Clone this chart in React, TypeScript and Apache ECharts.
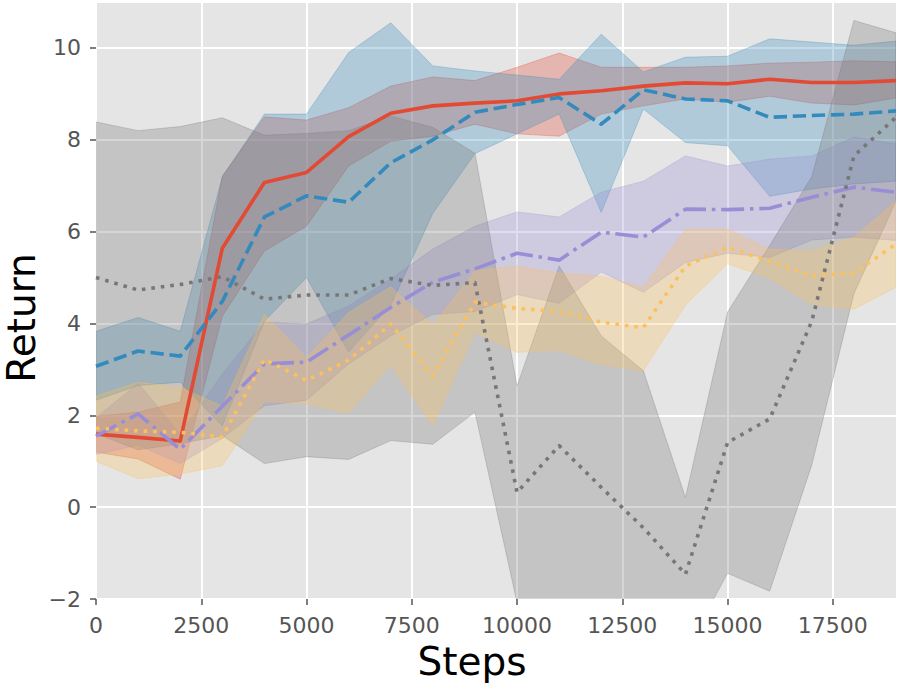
import React, { useEffect, useRef } from "react";
import * as echarts from "echarts";

const steps = [0, 1000, 2000, 3000, 4000, 5000, 6000, 7000, 8000, 9000, 10000, 11000, 12000, 13000, 14000, 15000, 16000, 17000, 18000, 19000];

const redMean = [1.59, 1.52, 1.44, 5.64, 7.07, 7.29, 8.07, 8.58, 8.74, 8.8, 8.85, 9.0, 9.07, 9.17, 9.24, 9.22, 9.32, 9.25, 9.25, 9.29];
const redLow = [1.2, 1.05, 0.61, 4.16, 5.58, 6.12, 7.43, 7.97, 8.08, 8.34, 8.13, 8.08, 8.56, 8.74, 8.89, 8.82, 8.95, 8.8, 8.76, 8.91];
const redHigh = [1.98, 2.07, 2.29, 7.21, 8.5, 8.43, 8.7, 9.17, 9.37, 9.29, 9.58, 9.89, 9.58, 9.58, 9.58, 9.61, 9.67, 9.69, 9.72, 9.7];

const blueMean = [3.07, 3.4, 3.29, 4.48, 6.32, 6.78, 6.64, 7.5, 8.0, 8.6, 8.77, 8.92, 8.34, 9.09, 8.89, 8.85, 8.49, 8.53, 8.56, 8.63];
const blueLow = [2.33, 2.65, 2.72, 1.77, 4.05, 5.0, 3.38, 4.4, 6.4, 7.7, 8.13, 8.56, 6.42, 8.67, 7.94, 7.87, 6.77, 6.93, 7.04, 7.1];
const blueHigh = [3.83, 4.13, 3.83, 7.19, 8.56, 8.56, 9.9, 10.55, 9.61, 9.5, 9.41, 9.32, 10.3, 9.48, 9.8, 9.82, 10.2, 10.13, 10.06, 10.15];

const purpleMean = [1.55, 2.03, 1.26, 2.2, 3.12, 3.16, 3.75, 4.35, 4.9, 5.19, 5.53, 5.38, 5.99, 5.88, 6.49, 6.48, 6.51, 6.75, 6.97, 6.86];
const purpleLow = [1.15, 1.35, 0.95, 1.5, 2.21, 2.33, 3.12, 3.73, 4.2, 4.26, 4.63, 4.44, 5.12, 4.68, 5.33, 5.53, 5.44, 5.82, 5.88, 5.81];
const purpleHigh = [1.95, 2.7, 1.6, 2.9, 4.03, 3.99, 4.38, 4.97, 5.62, 6.12, 6.43, 6.32, 6.86, 7.1, 7.65, 7.43, 7.58, 7.65, 8.06, 7.91];

const grayMean = [5.0, 4.73, 4.85, 5.02, 4.53, 4.62, 4.62, 4.98, 4.83, 4.89, 0.32, 1.34, 0.43, -0.45, -1.46, 1.41, 1.92, 4.05, 7.65, 8.49];
const grayLow = [1.6, 1.25, 1.38, 1.56, 0.95, 1.1, 1.04, 1.45, 1.37, 2.07, -2.08, -2.57, -2.87, -3.87, -3.13, -1.44, -1.83, 0.92, 4.65, 6.66];
const grayHigh = [8.39, 8.2, 8.29, 8.48, 8.1, 8.14, 8.2, 8.52, 8.27, 7.71, 2.64, 5.25, 3.73, 2.97, 0.21, 4.25, 5.7, 7.2, 10.6, 10.33];

const yellowMean = [1.72, 1.66, 1.63, 1.53, 3.22, 2.76, 3.2, 3.99, 2.86, 4.46, 4.33, 4.26, 4.03, 3.91, 5.25, 5.66, 5.35, 5.04, 5.1, 5.73];
const yellowLow = [1.0, 0.62, 0.72, 0.9, 2.3, 2.25, 2.05, 3.1, 1.77, 3.81, 3.37, 3.42, 3.1, 2.97, 4.4, 5.3, 4.98, 4.42, 4.31, 4.79];
const yellowHigh = [2.42, 2.72, 2.61, 2.2, 4.2, 3.26, 4.24, 4.8, 3.97, 5.15, 5.25, 5.1, 5.03, 4.79, 6.06, 6.06, 5.62, 5.58, 5.88, 6.67];

const xTicks = [0, 2500, 5000, 7500, 10000, 12500, 15000, 17500];
const yTicks = [-2, 0, 2, 4, 6, 8, 10];

const xTitle = "Steps";
const yTitle = "Return";

const RED = "#E24A33";
const BLUE = "#348ABD";
const PURPLE = "#988ED5";
const GRAY = "#777777";
const YELLOW = "#FBC15E";

function rgba(hex: string, a: number) {
  const n = parseInt(hex.slice(1), 16);
  return `rgba(${(n >> 16) & 255},${(n >> 8) & 255},${n & 255},${a})`;
}

function bandSeries(name: string, low: number[], high: number[], color: string) {
  return {
    type: "custom",
    name,
    z: 2,
    silent: true,
    data: steps.map((x, i) => [x, low[i], high[i]]),
    encode: { x: 0, y: [1, 2] },
    renderItem: (params: any, api: any) => {
      if (params.dataIndex !== 0) return null;
      const n = params.dataInsideLength;
      const top: number[][] = [];
      const bottom: number[][] = [];
      for (let j = 0; j < n; j++) {
        const x = api.value(0, j);
        top.push(api.coord([x, api.value(2, j)]));
        bottom.push(api.coord([x, api.value(1, j)]));
      }
      const points = top.concat(bottom.reverse());
      const cs = params.coordSys;
      return {
        type: "polygon",
        shape: { points },
        style: { fill: rgba(color, 0.3), stroke: rgba(color, 0.3), lineWidth: 1 },
        clipPath: { type: "rect", shape: { x: cs.x, y: cs.y, width: cs.width, height: cs.height } },
      };
    },
  };
}

function lineSeries(name: string, values: number[], color: string, dash: any) {
  return {
    type: "line",
    name,
    z: 3,
    silent: true,
    data: steps.map((x, i) => [x, values[i]]),
    symbol: "none",
    showSymbol: false,
    lineStyle: { color, width: 3.6, type: dash, cap: "butt", join: "round" },
  };
}

const fmtX = (v: number) => String(v);
const fmtY = (v: number) => (v < 0 ? "\u2212" + Math.abs(v) : String(v));

export default function App() {
  const ref = useRef<HTMLDivElement>(null);
  useEffect(() => {
    if (!ref.current) return;
    const chart = echarts.init(ref.current, null, { renderer: "svg" });
    const lw = 3.6;
    chart.setOption({
      animation: false,
      backgroundColor: "#ffffff",
      grid: {
        left: 96,
        right: 2,
        top: 3,
        bottom: 90,
        show: true,
        backgroundColor: "#E5E5E5",
        borderWidth: 0,
      },
      xAxis: {
        type: "value",
        min: 0,
        max: 19000,
        interval: 2500,
        axisLine: { show: false, onZero: false },
        axisTick: { show: true, length: 6, lineStyle: { color: "#555555", width: 1.5 }, customValues: xTicks },
        axisLabel: { customValues: xTicks, color: "#555555", fontSize: 22, fontFamily: "DejaVu Sans", margin: 15, formatter: fmtX },
        splitLine: { show: true, lineStyle: { color: "#ffffff", width: 2 } },
      },
      yAxis: {
        type: "value",
        min: -2,
        max: 10.98,
        interval: 2,
        axisLine: { show: false, onZero: false },
        axisTick: { show: true, length: 6, lineStyle: { color: "#555555", width: 1.5 }, customValues: yTicks },
        axisLabel: { customValues: yTicks, color: "#555555", fontSize: 22, fontFamily: "DejaVu Sans", margin: 15, formatter: fmtY },
        splitLine: { show: true, lineStyle: { color: "#ffffff", width: 2 } },
      },
      graphic: [
        {
          type: "text",
          x: 472,
          y: 661,
          style: { text: xTitle, font: '39px "DejaVu Sans"', fill: "#000000", textAlign: "center", textVerticalAlign: "middle" },
        },
        {
          type: "text",
          x: 21,
          y: 318,
          rotation: Math.PI / 2,
          style: { text: yTitle, font: '39px "DejaVu Sans"', fill: "#000000", textAlign: "center", textVerticalAlign: "middle" },
        },
      ],
      series: [
        bandSeries("redBand", redLow, redHigh, RED),
        bandSeries("blueBand", blueLow, blueHigh, BLUE),
        bandSeries("purpleBand", purpleLow, purpleHigh, PURPLE),
        bandSeries("grayBand", grayLow, grayHigh, GRAY),
        bandSeries("yellowBand", yellowLow, yellowHigh, YELLOW),
        lineSeries("red", redMean, RED, "solid"),
        lineSeries("blue", blueMean, BLUE, [3.7 * lw, 1.6 * lw]),
        lineSeries("purple", purpleMean, PURPLE, [6.4 * lw, 1.6 * lw, 1 * lw, 1.6 * lw]),
        lineSeries("gray", grayMean, GRAY, [1 * lw, 1.65 * lw]),
        lineSeries("yellow", yellowMean, YELLOW, [1 * lw, 1.65 * lw]),
      ],
    });
    return () => chart.dispose();
  }, []);
  return <div ref={ref} style={{ position: "fixed", left: 0, top: 0, width: 898, height: 689 }} />;
}
